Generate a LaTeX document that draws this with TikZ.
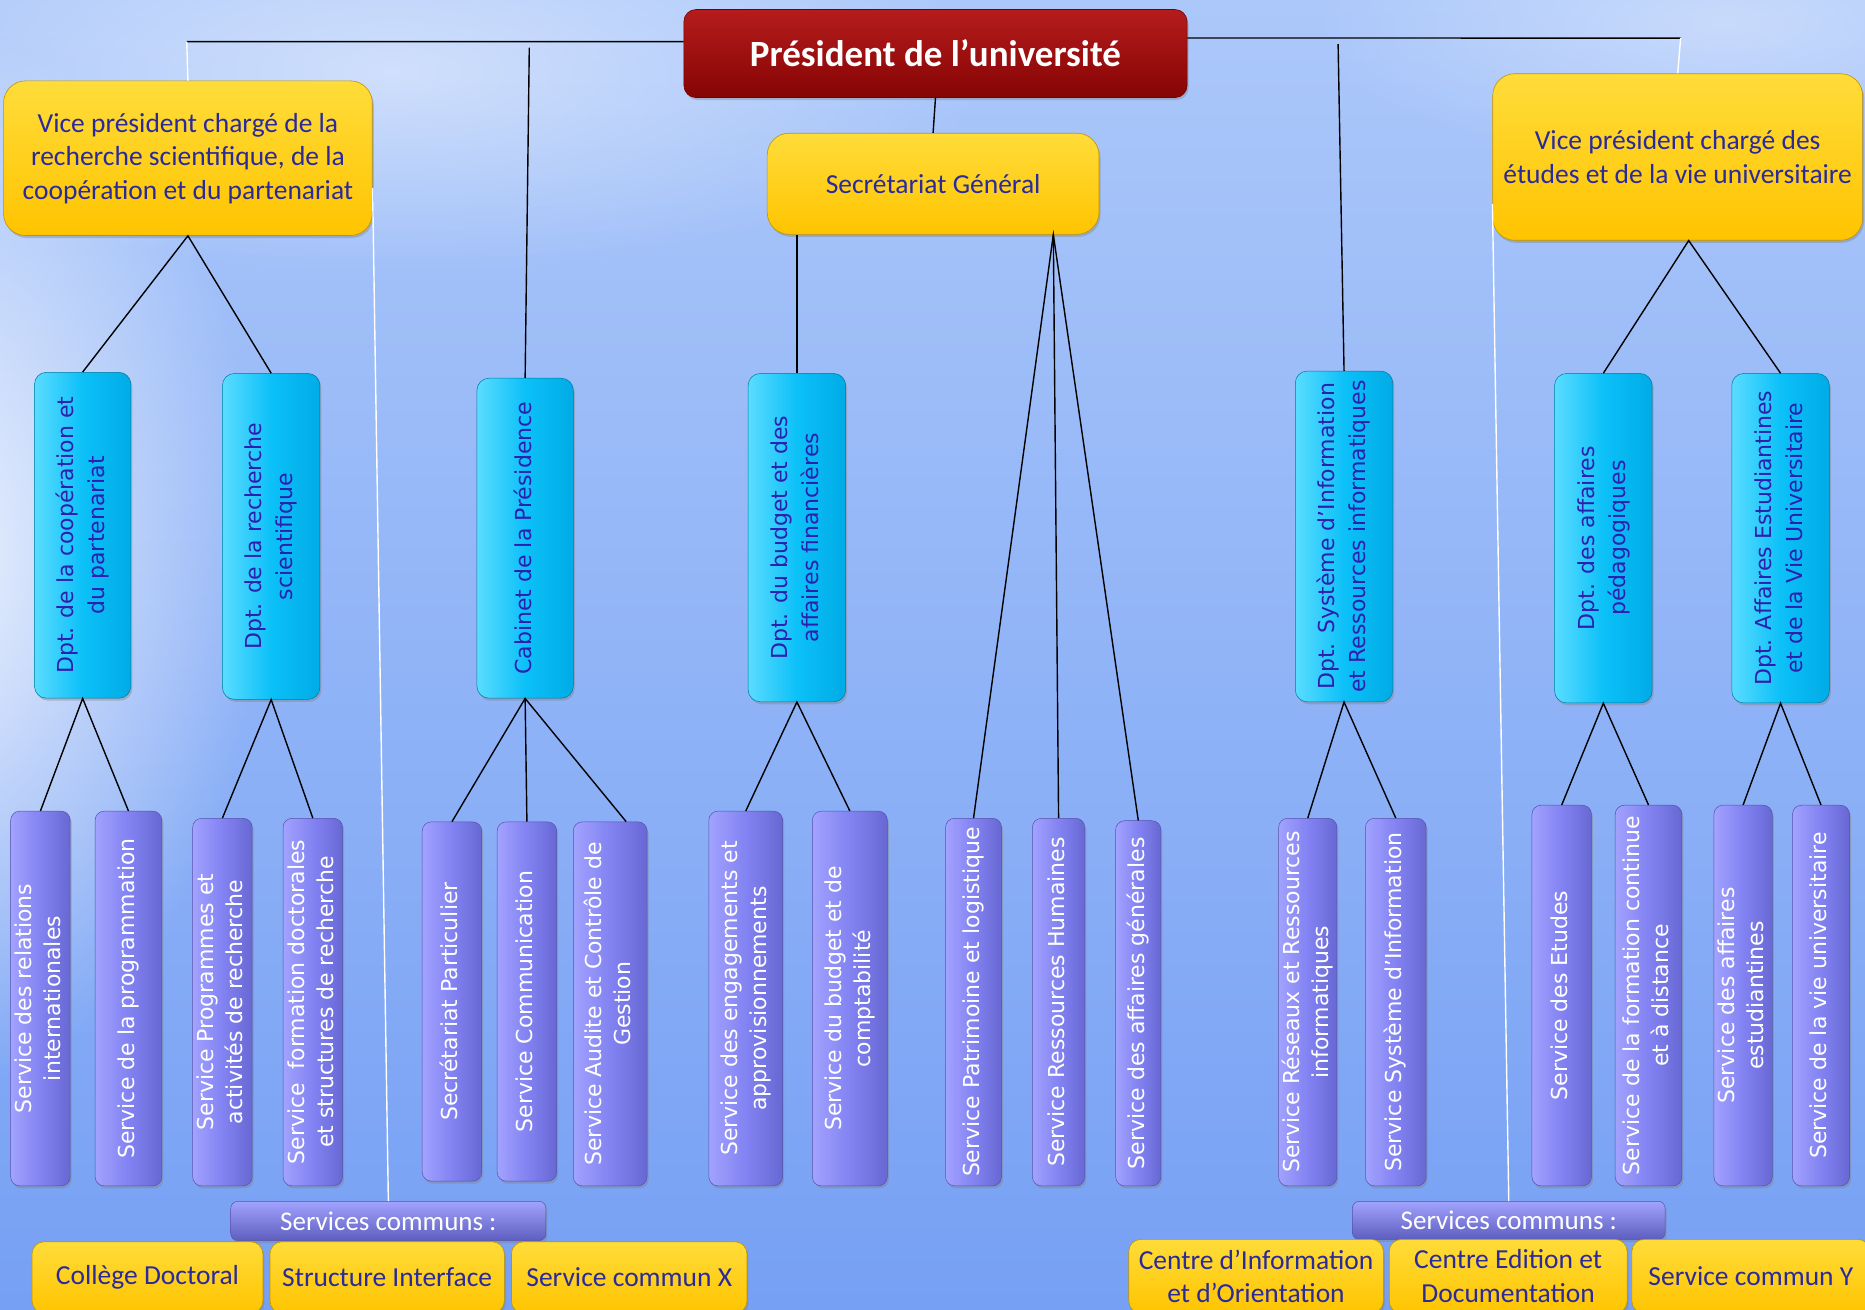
\documentclass[tikz,border=0pt]{standalone}
\usepackage{fontspec}
\usepackage{graphicx}
\setmainfont{Carlito}
\newfontfamily\vfont{DejaVu Sans}
\usetikzlibrary{fit,shadows,fadings}

\definecolor{navy}{HTML}{2A2A9C}
\definecolor{dptText}{HTML}{2D1FB0}
\definecolor{ylwT}{HTML}{FFDC3A}
\definecolor{ylwB}{HTML}{FFC400}
\definecolor{cyanL}{HTML}{5ADCFF}
\definecolor{cyanM}{HTML}{0CC0F8}
\definecolor{cyanR}{HTML}{00ABE6}
\definecolor{purL}{HTML}{A2A2FF}
\definecolor{purM}{HTML}{8282F2}
\definecolor{purR}{HTML}{6868D4}
\definecolor{redT}{HTML}{B51C1C}
\definecolor{redB}{HTML}{860404}
\definecolor{skyT}{HTML}{ACC8FA}
\definecolor{skyB}{HTML}{76A0F4}

\tikzfading[name=glow, inner color=transparent!0, outer color=transparent!100]

% vertical (bottom-to-top) multi-line label
\newcommand\vt[1]{\rotatebox{90}{\begin{tabular}{@{}c@{}}#1\end{tabular}}}

% box spanning two corners, with its text in a node of its own:
% #1 box style, #2 text style, #3 name, #4-#7 corners, #8 text
\newcommand\bx[8]{%
  \node[#1, fit={(#4,#5) (#6,#7)}] (#3) {};
  \node[#2] (#3t) at (#3.center) {#8};}

\tikzset{
  box/.style={inner sep=0pt,
    drop shadow={shadow xshift=1.5pt, shadow yshift=-2.5pt, opacity=0.4}},
  rbox/.style={box, rounded corners=12pt, top color=redT, bottom color=redB,
    draw=redB!80!black, line width=0.6pt},
  ybox/.style={box, rounded corners=22pt, top color=ylwT, bottom color=ylwB,
    draw=ylwB!75!black, line width=0.6pt},
  yfoot/.style={ybox, rounded corners=12pt},
  cbox/.style={box, rounded corners=12pt, left color=cyanL, right color=cyanR,
    middle color=cyanM, draw=cyanR!70!black, line width=0.5pt},
  pbox/.style={box, rounded corners=9pt, left color=purL, right color=purR,
    middle color=purM, draw=purR!80!black, line width=0.5pt},
  cbar/.style={box, rounded corners=7pt, top color=purL, bottom color=purR!90!black,
    draw=purR!80!black, line width=0.5pt},
  rtxt/.style={inner sep=0pt, align=center, text=white,
    font=\bfseries\fontsize{37}{44}\selectfont},
  ytxt/.style={inner sep=0pt, align=center, text=navy,
    font=\fontsize{27.5}{33.5}\selectfont},
  ctxt/.style={inner sep=0pt, text=dptText, font=\vfont\fontsize{22}{31}\selectfont},
  ptxt/.style={inner sep=0pt, text=white, font=\vfont\fontsize{22}{29}\selectfont},
  btxt/.style={inner sep=0pt, text=white, font=\fontsize{27}{32}\selectfont},
  conn/.style={black, line width=1.4pt},
  wconn/.style={white, line width=1.4pt},
}

\begin{document}
\begin{tikzpicture}[x=1.1894pt, y=-1.1894pt]
\useasboundingbox (0,0) rectangle (1568,1101);
\begin{scope}
\clip (0,0) rectangle (1568,1101);

% sky background
\fill[top color=skyT, bottom color=skyB] (0,0) rectangle (1568,1101);
\fill[white, opacity=0.85, path fading=glow] (-60,470) ellipse (280 and 450);
\fill[white, opacity=0.45, path fading=glow] (330,60) ellipse (500 and 170);
\fill[white, opacity=0.35, path fading=glow] (1450,20) ellipse (350 and 120);

% top level
\bx{rbox}{rtxt}{pres}{575}{8}{998}{82}{Président de l’université}
\bx{ybox}{ytxt}{vp1}{3}{68}{313}{198}
  {Vice président chargé de la\\recherche scientifique, de la\\coopération et du partenariat}
\bx{ybox}{ytxt}{sg}{645}{112}{924}{197}{Secrétariat Général}
\bx{ybox}{ytxt}{vp2}{1255}{62}{1566}{202}
  {Vice président chargé des\\études et de la vie universitaire}

% departments
\bx{cbox}{ctxt}{d1}{29}{313}{110}{587}{\vt{Dpt. de la coopération et\\du partenariat}}
\bx{cbox}{ctxt}{d2}{187}{314}{269}{588}{\vt{Dpt. de la recherche\\scientifique}}
\bx{cbox}{ctxt}{d3}{401}{318}{482}{587}{\vt{Cabinet de la Présidence}}
\bx{cbox}{ctxt}{d4}{629}{314}{711}{590}{\vt{Dpt. du budget et des\\affaires financières}}
\bx{cbox}{ctxt}{d5}{1089}{312}{1171}{590}{\vt{Dpt. Système d’Information\\et Ressources informatiques}}
\bx{cbox}{ctxt}{d6}{1307}{314}{1389}{591}{\vt{Dpt. des affaires\\pédagogiques}}
\bx{cbox}{ctxt}{d7}{1456}{314}{1538}{591}{\vt{Dpt. Affaires Estudiantines\\et de la Vie Universitaire}}

% services
\bx{pbox}{ptxt}{s1}{9}{682}{59}{997}{\vt{Service des relations\\internationales}}
\bx{pbox}{ptxt}{s2}{80}{682}{136}{997}{\vt{Service de la programmation}}
\bx{pbox}{ptxt}{s3}{162}{688}{212}{997}{\vt{Service Programmes et\\activités de recherche}}
\bx{pbox}{ptxt}{s4}{238}{688}{288}{997}{\vt{Service\ \ formation doctorales\\et structures de recherche}}
\bx{pbox}{ptxt}{s5}{355}{691}{405}{993}{\vt{Secrétariat Particulier}}
\bx{pbox}{ptxt}{s6}{418}{691}{468}{993}{\vt{Service Communication}}
\bx{pbox}{ptxt}{s7}{482}{691}{544}{997}{\vt{Service Audite et Contrôle de\\Gestion}}
\bx{pbox}{ptxt}{s8}{596}{682}{658}{997}{\vt{Service des engagements et\\approvisionnements}}
\bx{pbox}{ptxt}{s9}{683}{682}{746}{997}{\vt{Service du budget et de\\comptabilité}}
\bx{pbox}{ptxt}{s10}{795}{688}{842}{997}{\vt{Service Patrimoine et logistique}}
\bx{pbox}{ptxt}{s11}{868}{688}{912}{997}{\vt{Service Ressources Humaines}}
\bx{pbox}{ptxt}{s12}{938}{690}{976}{997}{\vt{Service des affaires générales}}
\bx{pbox}{ptxt}{s13}{1075}{688}{1124}{997}{\vt{Service Réseaux et Ressources\\informatiques}}
\bx{pbox}{ptxt}{s14}{1148}{688}{1199}{997}{\vt{Service Système d’Information}}
\bx{pbox}{ptxt}{s15}{1288}{677}{1338}{997}{\vt{Service des Etudes}}
\bx{pbox}{ptxt}{s16}{1358}{677}{1414}{997}{\vt{Service de la formation continue\\et à distance}}
\bx{pbox}{ptxt}{s17}{1441}{677}{1490}{997}{\vt{Service des affaires\\estudiantines}}
\bx{pbox}{ptxt}{s18}{1507}{677}{1555}{997}{\vt{Service de la vie universitaire}}

% common services
\bx{cbar}{btxt}{scl}{194}{1010}{459}{1043}{Services communs :}
\bx{cbar}{btxt}{scr}{1137}{1010}{1400}{1042}{Services communs :}
\bx{yfoot}{ytxt}{b1}{27}{1044}{221}{1104}{Collège Doctoral}
\bx{yfoot}{ytxt}{b2}{227}{1044}{424}{1104}{Structure Interface}
\bx{yfoot}{ytxt}{b3}{430}{1044}{628}{1104}{Service commun X}
\bx{yfoot}{ytxt}{b4}{949}{1042}{1163}{1104}{Centre d’Information\\et d’Orientation}
\bx{yfoot}{ytxt}{b5}{1168}{1042}{1368}{1104}{Centre Edition et\\Documentation}
\bx{yfoot}{ytxt}{b6}{1372}{1042}{1572}{1104}{Service commun Y}

% junction points of the top rail
\coordinate (jl) at (157,35);
\coordinate (jr) at (1413,32);
\coordinate (cabtop) at (445,40);
\coordinate (sitop) at (1125,37);

% top rail
\draw[conn] ([yshift=11.9pt]pres.west) -- (jl);
\draw[wconn] (jl) -- (vp1.north);
\draw[conn] ([yshift=15.5pt]pres.east) -- (jr);
\draw[wconn] (jr) -- (vp2.north);
\draw[conn] (cabtop) -- (d3.north);
\draw[conn] (sitop) -- (d5.north);
\draw[conn] (pres.south) -- (sg.north);

% vice presidents to common services
\draw[wconn] ([yshift=-30pt]vp1.east) -- (scl.north);
\draw[wconn] ([yshift=-47pt]vp2.west) -- (scr.north);

% vice presidents to departments
\draw[conn] (d1.north) -- (vp1.south) -- (d2.north);
\draw[conn] (d6.north) -- ([xshift=11pt]vp2.south) -- (d7.north);

% general secretariat
\draw[conn] (sg.south -| d4.north) -- (d4.north);
\draw[conn] (s10.north) -- ([xshift=-46pt]sg.south east) -- (s12.north);
\draw[conn] ([xshift=-46pt]sg.south east) -- (s11.north);

% departments to services
\draw[conn] (s1.north) -- (d1.south) -- (s2.north);
\draw[conn] (s3.north) -- (d2.south) -- (s4.north);
\draw[conn] (s5.north) -- (d3.south) -- ([xshift=16pt]s7.north);
\draw[conn] (d3.south) -- (s6.north);
\draw[conn] (s8.north) -- (d4.south) -- (s9.north);
\draw[conn] (s13.north) -- (d5.south) -- (s14.north);
\draw[conn] (s15.north) -- (d6.south) -- (s16.north);
\draw[conn] (s17.north) -- (d7.south) -- (s18.north);
\end{scope}
\end{tikzpicture}
\end{document}
